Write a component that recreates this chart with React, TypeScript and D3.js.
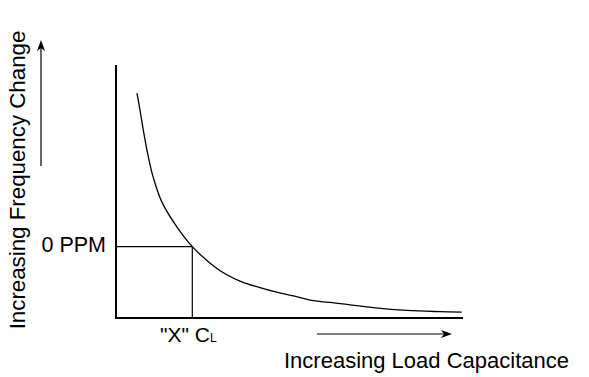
import React from "react";
import * as d3 from "d3";

// Load capacitance (arbitrary units, 0-100) and frequency change (arbitrary units, 0-100)
const loadCap = [6.05, 7.0, 7.87, 9.2, 10.75, 13.17, 17.49, 21.99, 29.48, 35.73, 41.5, 46.3, 51.1, 55.9, 64.6, 74.2, 83.8, 93.4, 99.6];
const freqChange = [88.9, 81.5, 74.3, 64.5, 55.5, 46.0, 36.1, 28.2, 19.2, 14.6, 12.0, 10.2, 8.7, 7.1, 5.7, 4.1, 3.0, 2.5, 2.3];
const zeroPPM = { x: 21.99, y: 28.2 };
const yLabel = "Increasing Frequency Change";
const xLabel = "Increasing Load Capacitance";
const zeroLabel = "0 PPM";

const W = 589;
const H = 377;
const FONT = "'Liberation Sans', Arial, Helvetica, sans-serif";

export default function App() {
  const x = d3.scaleLinear().domain([0, 100]).range([116, 463]);
  const y = d3.scaleLinear().domain([0, 100]).range([318, 65]);
  const pts: [number, number][] = loadCap.map((c, i) => [c, freqChange[i]]);
  const line = d3
    .line<[number, number]>()
    .x((d) => x(d[0]))
    .y((d) => y(d[1]))
    .curve(d3.curveCatmullRom.alpha(0.5));

  const zx = x(zeroPPM.x);
  const zy = y(zeroPPM.y);

  // arrows
  const ya = { x: 41, y1: 166, y2: 40 };
  const xa = { y: 334, x1: 317, x2: 452 };

  return (
    <svg
      width={W}
      height={H}
      style={{ position: "absolute", left: 0, top: 0, background: "#fff" }}
      fontFamily={FONT}
    >
      <rect width={W} height={H} fill="#fff" />
      {/* axes */}
      <line x1={x(0)} x2={x(0)} y1={y(100)} y2={y(0) + 1} stroke="#000" strokeWidth={2} />
      <line x1={x(0) - 1} x2={x(100)} y1={y(0)} y2={y(0)} stroke="#000" strokeWidth={2} />
      {/* 0 PPM reference lines */}
      <line x1={x(0)} x2={zx} y1={zy} y2={zy} stroke="#000" strokeWidth={1.2} />
      <line x1={zx} x2={zx} y1={zy} y2={y(0)} stroke="#000" strokeWidth={1.2} />
      {/* curve */}
      <path d={line(pts) || ""} fill="none" stroke="#000" strokeWidth={1.3} />
      {/* labels */}
      <text x={106} y={252} fontSize={21.5} textAnchor="end" fill="#000">
        {zeroLabel}
      </text>
      <text x={160} y={342} fontSize={21} fill="#000">
        {'"X" C'}
        <tspan fontSize={12}>L</tspan>
      </text>
      <text x={284} y={368} fontSize={22} fill="#000">
        {xLabel}
      </text>
      <text
        transform={`translate(25,180) rotate(-90)`}
        fontSize={22.3}
        textAnchor="middle"
        fill="#000"
      >
        {yLabel}
      </text>
      {/* y arrow */}
      <line x1={ya.x} x2={ya.x} y1={ya.y1} y2={ya.y2 + 5} stroke="#000" strokeWidth={1.2} />
      <path
        d={`M${ya.x},${ya.y2} L${ya.x - 4},${ya.y2 + 11} L${ya.x},${ya.y2 + 8} L${ya.x + 4},${ya.y2 + 11} Z`}
        fill="#000"
      />
      {/* x arrow */}
      <line x1={xa.x1} x2={xa.x2 - 5} y1={xa.y} y2={xa.y} stroke="#000" strokeWidth={1.2} />
      <path
        d={`M${xa.x2},${xa.y} L${xa.x2 - 11},${xa.y - 4} L${xa.x2 - 8},${xa.y} L${xa.x2 - 11},${xa.y + 4} Z`}
        fill="#000"
      />
    </svg>
  );
}
